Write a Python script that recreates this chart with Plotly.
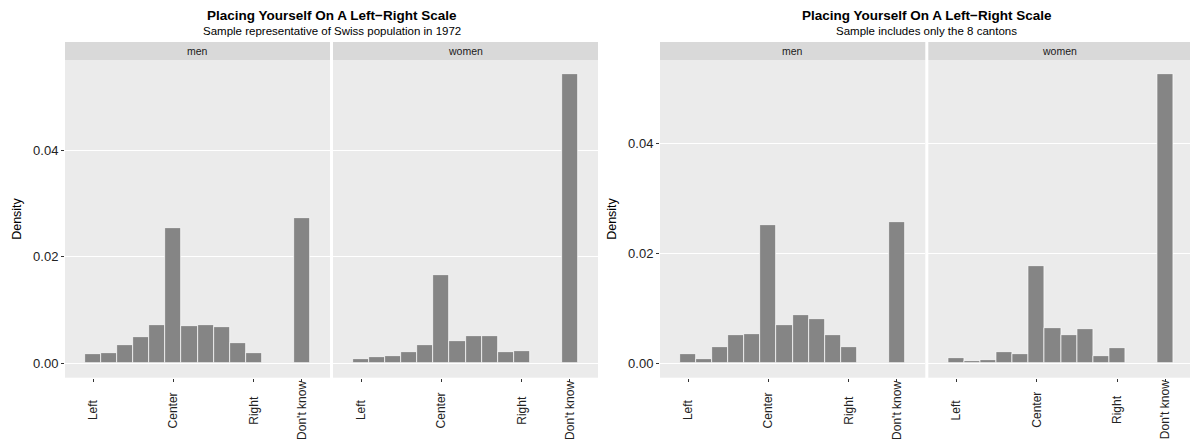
import plotly.graph_objects as go

# Response scale positions (0 = Left, 50 = Center, 100 = Right, 130 = Don't know)
positions = [0, 10, 20, 30, 40, 50, 60, 70, 80, 90, 100, 130]
tick_values = [0, 50, 100, 130]
tick_labels = ["Left", "Center", "Right", "Don't know"]
bin_width = 10

# Densities, representative Swiss sample 1972
swiss_men = [0.0018, 0.0019, 0.0034, 0.0049, 0.0072, 0.0254, 0.0070, 0.0072, 0.0068, 0.0038, 0.0020, 0.0272]
swiss_women = [0.00075, 0.0011, 0.0013, 0.0022, 0.0035, 0.0166, 0.0041, 0.0051, 0.0051, 0.0021, 0.0023, 0.0542]

# Densities, sample of the 8 cantons only
cantons_men = [0.0017, 0.0007, 0.0029, 0.0051, 0.0053, 0.0252, 0.0069, 0.0087, 0.0081, 0.0051, 0.0029, 0.0258]
cantons_women = [0.0010, 0.0004, 0.0006, 0.0020, 0.0017, 0.0178, 0.0065, 0.0052, 0.0063, 0.0014, 0.0028, 0.0526]

title_text = "Placing Yourself On A Left\u2212Right Scale"
subtitles = ["Sample representative of Swiss population in 1972", "Sample includes only the 8 cantons"]
facets = ["men", "women"]

W, H = 1190, 441
FONT = "Liberation Sans, Arial, Helvetica, sans-serif"
BAR = "#858585"
PANEL = "#EBEBEB"
STRIP = "#D9D9D9"

# panel placement in pixels
panel_x = [(65, 330), (333, 598), (660, 925.3), (928.3, 1190)]
px_per_unit = 265.0 / 165.0
x_lo = -17.5
panel_top, panel_bot = 60, 377.7
strip_top = 42
xlabel_mid = 410


def px(xp):
    return xp / W


def py(yp):
    return 1 - yp / H


fig = go.Figure()

series = [swiss_men, swiss_women, cantons_men, cantons_women]
for i, vals in enumerate(series):
    fig.add_trace(go.Bar(
        x=positions, y=vals, width=bin_width,
        marker=dict(color=BAR, line=dict(color="white", width=0.7)),
        xaxis="x" if i == 0 else f"x{i + 1}",
        yaxis="y" if i == 0 else f"y{i + 1}",
        showlegend=False, hoverinfo="x+y",
    ))

layout = dict(
    width=W, height=H,
    margin=dict(l=0, r=0, t=0, b=0),
    paper_bgcolor="white", plot_bgcolor=PANEL,
    bargap=0, font=dict(family=FONT, color="#1A1A1A"),
)

ymax = [max(swiss_men + swiss_women), max(cantons_men + cantons_women)]

annotations = []
shapes = []
for i in range(4):
    x0, x1 = panel_x[i]
    xname = "xaxis" if i == 0 else f"xaxis{i + 1}"
    yname = "yaxis" if i == 0 else f"yaxis{i + 1}"
    ykey = "y" if i == 0 else f"y{i + 1}"
    xkey = "x" if i == 0 else f"x{i + 1}"
    x_hi = x_lo + (x1 - x0) / px_per_unit
    layout[xname] = dict(
        domain=[px(x0), px(x1)], anchor=ykey, range=[x_lo, x_hi],
        tickvals=tick_values, showticklabels=False,
        ticks="outside", ticklen=3, tickwidth=1, tickcolor="#333333",
        showgrid=False, zeroline=False, showline=False, fixedrange=True,
    )
    # vertical tick labels centred below each tick
    for tv, tl in zip(tick_values, tick_labels):
        annotations.append(dict(text=tl, xref=xkey, yref="paper",
                                x=tv, y=py(xlabel_mid), xanchor="center", yanchor="middle",
                                textangle=-90, showarrow=False,
                                font=dict(size=12, color="#222222", family=FONT)))
    m = ymax[i // 2]
    first = i % 2 == 0
    layout[yname] = dict(
        domain=[py(panel_bot), py(panel_top)], anchor=xkey,
        range=[-0.05 * m, 1.05 * m],
        tickvals=[0, 0.02, 0.04], ticktext=["0.00", "0.02", "0.04"],
        showticklabels=first, ticks="outside" if first else "",
        ticklen=3, tickwidth=1, tickcolor="#333333",
        tickfont=dict(size=13, color="#222222", family=FONT),
        showgrid=True, gridcolor="white", gridwidth=1.1,
        zeroline=False, showline=False, fixedrange=True,
    )
    # facet strip
    shapes.append(dict(type="rect", xref="paper", yref="paper",
                       x0=px(x0), x1=px(x1), y0=py(panel_top), y1=py(strip_top),
                       fillcolor=STRIP, line=dict(width=0), layer="below"))
    annotations.append(dict(text=facets[i % 2], xref="paper", yref="paper",
                            x=px((x0 + x1) / 2), y=py((strip_top + panel_top) / 2),
                            xanchor="center", yanchor="middle", showarrow=False,
                            font=dict(size=10.5, color="#1A1A1A", family=FONT)))

# titles and y-axis labels for both charts
for k in range(2):
    left = panel_x[2 * k][0]
    right = panel_x[2 * k][0] + 2 * 265 + 3
    cx = (left + right) / 2
    annotations.append(dict(text="<b>" + title_text + "</b>", xref="paper", yref="paper",
                            x=px(cx), y=py(15.5), xanchor="center", yanchor="middle",
                            showarrow=False, font=dict(size=13.5, color="black", family=FONT)))
    annotations.append(dict(text=subtitles[k], xref="paper", yref="paper",
                            x=px(cx), y=py(31.5), xanchor="center", yanchor="middle",
                            showarrow=False, font=dict(size=11.5, color="black", family=FONT)))
    annotations.append(dict(text="Density", xref="paper", yref="paper",
                            x=px(left - 48), y=py((panel_top + panel_bot) / 2),
                            xanchor="center", yanchor="middle", textangle=-90,
                            showarrow=False, font=dict(size=12.5, color="black", family=FONT)))

layout["annotations"] = annotations
layout["shapes"] = shapes
fig.update_layout(**layout)

fig.write_html("out.html")
